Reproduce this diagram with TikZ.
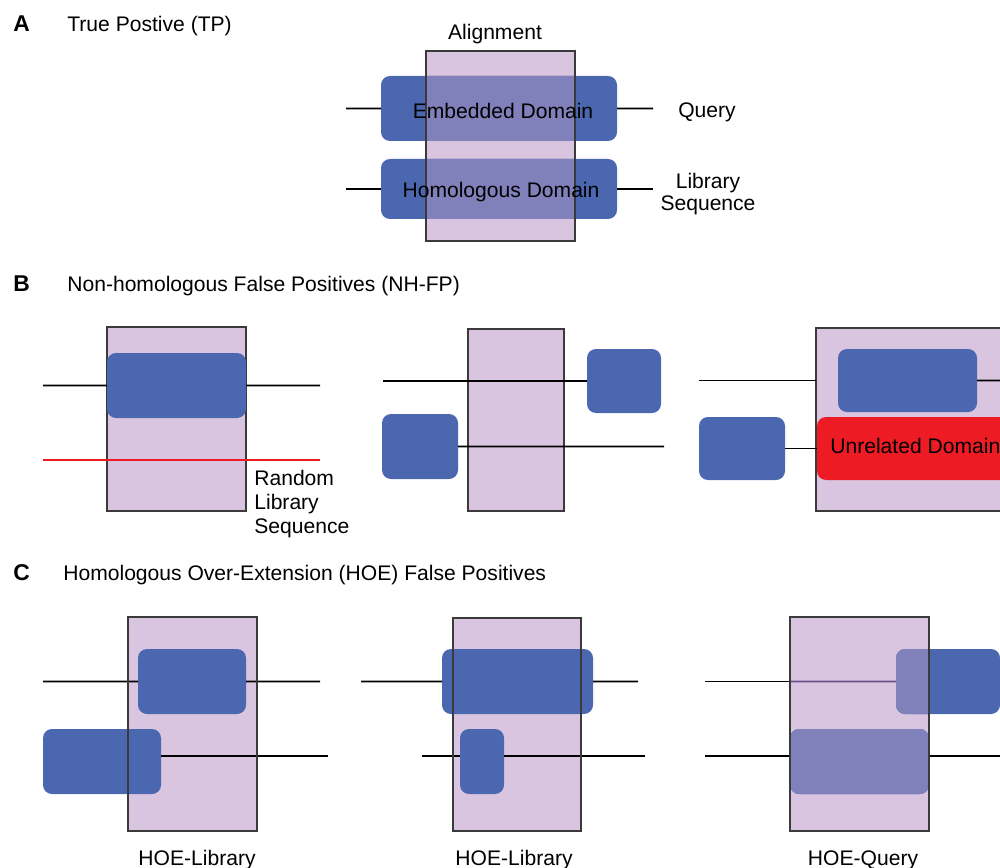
\documentclass[tikz,border=0pt]{standalone}
\usepackage{fontspec}
\setmainfont{Liberation Sans}
\usetikzlibrary{fit}
\definecolor{dom}{HTML}{4A67B0}
\definecolor{aln}{HTML}{D9C5E0}
\definecolor{mix}{HTML}{8080BB}
\definecolor{unrel}{HTML}{ED1C24}
\definecolor{alnborder}{HTML}{3A3A3A}
\definecolor{seqin}{HTML}{6B4E8C}
\begin{document}
\begin{tikzpicture}[x=0.02cm,y=-0.02cm,
  lbl/.style={font=\fontsize{12}{14}\selectfont, inner sep=0},
  panel/.style={font=\fontsize{13}{15}\selectfont\bfseries, inner sep=0, anchor=base west},
  seq/.style={line width=1.05pt, black},
  seqpurple/.style={line width=1.05pt, seqin},
  rseq/.style={line width=1.05pt, unrel},
  alnbox/.style={inner sep=0, outer sep=0, fill=aln},
  alnline/.style={line width=0.9pt, alnborder},
  dombox/.style={inner sep=0, outer sep=0, fill=dom, rounded corners=0.18cm},
  unrelbox/.style={inner sep=0, outer sep=0, fill=unrel, rounded corners=0.18cm},
  mixfill/.style={fill=mix, rounded corners=0.18cm}
]
\useasboundingbox (0,0) rectangle (1000,868);

% ================= Panel A =================
\node[panel] (pA) at (13,32) {A};
\node[lbl, anchor=base west] (tA) at (67,32) {True Postive (TP)};
\node[lbl, anchor=base] (alnlbl) at (495,40) {Alignment};

\node[alnbox, fit={(426,51) (575,241)}] (aA) {};
\node[dombox, fit={(381,76) (617,141)}] (qA) {};
\node[dombox, fit={(381,159) (617,219)}] (lA) {};
\coordinate (qA-l) at (346,108.5);
\coordinate (qA-r) at (653,108.5);
\coordinate (lA-l) at (346,189);
\coordinate (lA-r) at (653,189);
\draw[seq] (qA-l) -- (qA.west);
\draw[seq] (qA.east) -- (qA-r);
\draw[seq] (lA-l) -- (lA.west);
\draw[seq] (lA.east) -- (lA-r);
\begin{scope}
  \clip (aA.south west) rectangle (aA.north east);
  \path[mixfill] (qA.south west) rectangle (qA.north east);
  \path[mixfill] (lA.south west) rectangle (lA.north east);
\end{scope}
\draw[alnline] (aA.south west) rectangle (aA.north east);
\node[lbl, anchor=base] (qAt) at (503,119) {Embedded Domain};
\node[lbl, anchor=base] (lAt) at (501,197) {Homologous Domain};
\node[lbl, anchor=base] (query) at (707,118) {Query};
\node[lbl, anchor=base] (libA1) at (708,189) {Library};
\node[lbl, anchor=base] (libA2) at (708,211) {Sequence};

% ================= Panel B =================
\node[panel] (pB) at (13,291) {B};
\node[lbl, anchor=base west] (tB) at (67,291) {Non-homologous False Positives (NH-FP)};

% B left
\node[alnbox, fit={(107,327) (246,511)}] (aB1) {};
\draw[alnline] (aB1.south west) rectangle (aB1.north east);
\node[dombox, fit={(107,353) (246,418)}] (qB1) {};
\coordinate (qB1-l) at (43,385.5);
\coordinate (qB1-r) at (320,385.5);
\draw[seq] (qB1-l) -- (qB1.west);
\draw[seq] (qB1.east) -- (qB1-r);
\coordinate (rB1-l) at (43,460);
\coordinate (rB1-r) at (320,460);
\draw[rseq] (rB1-l) -- (rB1-r);
\node[lbl, anchor=base west] (rnd1) at (254,485) {Random};
\node[lbl, anchor=base west] (rnd2) at (254,509) {Library};
\node[lbl, anchor=base west] (rnd3) at (254,533) {Sequence};

% B middle
\node[alnbox, fit={(468,329) (564,511)}] (aB2) {};
\draw[alnline] (aB2.south west) rectangle (aB2.north east);
\node[dombox, fit={(587,349) (661,413)}] (qB2) {};
\node[dombox, fit={(382,414) (458,479)}] (lB2) {};
\coordinate (qB2-l) at (383,381);
\coordinate (lB2-r) at (664,446.5);
\draw[seq] (qB2-l) -- (qB2.west);
\draw[seq] (lB2.east) -- (lB2-r);

% B right
\begin{scope}
  \clip (0,0) rectangle (1000,868);
  \node[alnbox, fit={(816,328) (1012,511)}] (aB3) {};
  \draw[alnline] (aB3.south west) rectangle (aB3.north east);
  \node[dombox, fit={(838,349) (977,412)}] (qB3) {};
  \node[dombox, fit={(699,417) (785,480)}] (lB3) {};
  \node[unrelbox, fit={(817,417) (1014,480)}] (uB3) {};
  \coordinate (qB3-l) at (699,380.5);
  \coordinate (qB3-r) at (1000,380.5);
  \draw[seq] (qB3-l) -- (qB3-l -| aB3.west);
  \draw[seq] (qB3.east) -- (qB3-r);
  \draw[seq] (lB3.east) -- (uB3.west);
  \node[lbl, anchor=base west] (unrelt) at (830,453) {Unrelated Domain};
\end{scope}

% ================= Panel C =================
\node[panel] (pC) at (13,580) {C};
\node[lbl, anchor=base west] (tC) at (63,580) {Homologous Over-Extension (HOE) False Positives};

% C left
\node[alnbox, fit={(128,617) (257,831)}] (aC1) {};
\coordinate (qC1-l) at (43,681.5);
\coordinate (qC1-r) at (320,681.5);
\coordinate (lC1-r) at (328,756);
\node[dombox, fit={(138,649) (246,714)}] (qC1) {};
\node[dombox, fit={(43,729) (161,794)}] (lC1) {};
\draw[seq] (qC1-l) -- (qC1.west);
\draw[seq] (qC1.east) -- (qC1-r);
\draw[seq] (lC1-r -| lC1.east) -- (lC1-r);
\draw[alnline] (aC1.south west) rectangle (aC1.north east);
\node[lbl, anchor=base] (hoe1) at (197,865) {HOE-Library};

% C middle
\node[alnbox, fit={(453,618) (581,831)}] (aC2) {};
\coordinate (qC2-l) at (361,681.5);
\coordinate (qC2-r) at (638,681.5);
\coordinate (lC2-l) at (422,756);
\coordinate (lC2-r) at (645,756);
\node[dombox, fit={(442,649) (593,714)}] (qC2) {};
\node[dombox, fit={(460,729) (504,794)}] (lC2) {};
\draw[seq] (qC2-l) -- (qC2.west);
\draw[seq] (qC2.east) -- (qC2-r);
\draw[seq] (lC2-l) -- (lC2-l -| lC2.west);
\draw[seq] (lC2-r -| lC2.east) -- (lC2-r);
\draw[alnline] (aC2.south west) rectangle (aC2.north east);
\node[lbl, anchor=base] (hoe2) at (514,865) {HOE-Library};

% C right
\node[alnbox, fit={(790,617) (929,831)}] (aC3) {};
\coordinate (qC3-l) at (705,681.5);
\coordinate (lC3-l) at (705,756);
\coordinate (lC3-r) at (1000,756);
\node[dombox, fit={(896,649) (1000,714)}] (qC3) {};
\node[dombox, fit={(790,729) (929,794)}] (lC3) {};
\draw[seq] (qC3-l) -- (qC3-l -| aC3.west);
\draw[seqpurple] (qC3-l -| aC3.west) -- (qC3.west);
\draw[seq] (lC3-l) -- (lC3-l -| lC3.west);
\draw[seq] (lC3-r -| lC3.east) -- (lC3-r);
\begin{scope}
  \clip (aC3.south west) rectangle (aC3.north east);
  \path[mixfill] (qC3.south west) rectangle (qC3.north east);
  \path[mixfill] (lC3.south west) rectangle (lC3.north east);
\end{scope}
\draw[alnline] (aC3.south west) rectangle (aC3.north east);
\node[lbl, anchor=base] (hoe3) at (863,865) {HOE-Query};
\end{tikzpicture}
\end{document}
